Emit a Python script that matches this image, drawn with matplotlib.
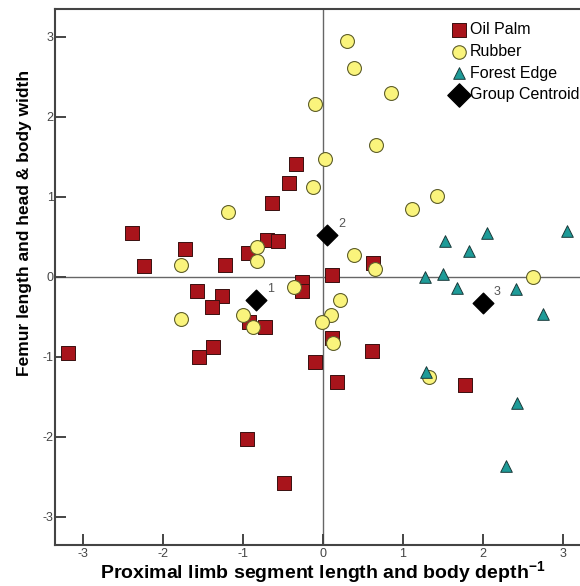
import matplotlib.pyplot as plt

plt.rcParams['font.family'] = ['Liberation Sans', 'DejaVu Sans']
plt.rcParams['axes.unicode_minus'] = False
plt.rcParams['mathtext.fontset'] = 'custom'
plt.rcParams['mathtext.rm'] = 'Liberation Sans'
plt.rcParams['mathtext.bf'] = 'Liberation Sans:bold'

# Oil Palm
palm_x = [-2.39, -2.24, -1.73, -1.22, -0.94, -0.70, -0.56, -0.64, -0.43, -0.34,
          0.625, 0.115, -0.26, -0.26, -1.57, -1.26, -1.39, -0.925, -0.725, 0.115,
          -3.19, -1.38, -1.55, -0.10, 0.61, 0.18, 1.78, -0.95, -0.49]
palm_y = [0.55, 0.14, 0.355, 0.146, 0.305, 0.46, 0.45, 0.93, 1.18, 1.41,
          0.175, 0.025, -0.06, -0.17, -0.17, -0.24, -0.38, -0.56, -0.625, -0.76,
          -0.95, -0.88, -1.0, -1.06, -0.92, -1.31, -1.35, -2.03, -2.58]

# Rubber
rub_x = [0.30, 0.39, 0.85, -0.10, 0.66, 0.02, -0.12, 1.42, 1.11, -1.19,
         -0.83, -0.83, -1.78, 0.39, 0.645, 2.62, -0.36, 0.21, -1.78, -1.0,
         -0.88, 0.096, -0.01, 0.125, 1.33]
rub_y = [2.95, 2.61, 2.30, 2.16, 1.65, 1.47, 1.13, 1.01, 0.855, 0.81,
         0.38, 0.20, 0.155, 0.28, 0.105, -0.005, -0.125, -0.29, -0.52, -0.47,
         -0.62, -0.47, -0.565, -0.82, -1.25]

# Forest Edge
edge_x = [3.05, 2.05, 1.52, 1.83, 1.27, 1.50, 1.67, 2.41, 2.75, 1.29, 2.42, 2.29]
edge_y = [0.57, 0.555, 0.45, 0.32, -0.005, 0.04, -0.14, -0.15, -0.46, -1.19, -1.58, -2.36]

# group centroids
cen_x = [-0.84, 0.05, 2.0]
cen_y = [-0.29, 0.52, -0.33]
cen_lab = ["1", "2", "3"]

fig = plt.figure(figsize=(5.8, 5.86), dpi=100)
ax = fig.add_axes([0.0948, 0.07, 0.924, 0.9147])

ax.axhline(0, color="#666666", lw=1.0, zorder=1)
ax.axvline(0, color="#666666", lw=1.0, zorder=1)

ax.scatter(palm_x, palm_y, marker="s", s=95, c="#A8141B", edgecolors="#3a1010",
           linewidths=0.7, zorder=3, label="Oil Palm")
ax.scatter(rub_x, rub_y, marker="o", s=100, c="#FAF47C", edgecolors="#5e5e2a",
           linewidths=0.8, zorder=4, label="Rubber")
ax.scatter(edge_x, edge_y, marker="^", s=70, c="#1E9B98", edgecolors="#1a3a3a",
           linewidths=0.7, zorder=5, label="Forest Edge")
ax.scatter(cen_x, cen_y, marker="D", s=110, c="black", edgecolors="black",
           zorder=6, label="Group Centroid")

for x, y, t in zip(cen_x, cen_y, cen_lab):
    ax.annotate(t, (x, y), xytext=(8, 6), textcoords="offset points",
                fontsize=9, color="#555555")

ax.set_xlim(-3.35, 3.35)
ax.set_ylim(-3.35, 3.35)
ax.set_xticks([-3, -2, -1, 0, 1, 2, 3])
ax.set_yticks([-3, -2, -1, 0, 1, 2, 3])

for s in ax.spines.values():
    s.set_color("#444444")
    s.set_linewidth(1.5)

ax.tick_params(direction="in", length=8, width=1.4, color="#444444",
               labelsize=9, labelcolor="#444444", pad=2)
ax.tick_params(axis="y", pad=1)

ax.set_xlabel("Proximal limb segment length and body depth$^{\\mathbf{-1}}$",
              fontsize=14, fontweight="bold", labelpad=0)
ax.set_ylabel("Femur length and head & body width", fontsize=12.5,
              fontweight="bold")
ax.yaxis.set_label_coords(-0.043, 0.6)

leg = ax.legend(loc="upper left", bbox_to_anchor=(0.781, 0.962),
                bbox_transform=fig.transFigure, frameon=False, fontsize=11.5,
                handlelength=0.8, handletextpad=0.25, labelspacing=0.42,
                borderaxespad=0, borderpad=0)
for h, sz in zip(leg.legend_handles, [110, 95, 70, 140]):
    h.set_sizes([sz])

plt.savefig("out.png", dpi=100)
